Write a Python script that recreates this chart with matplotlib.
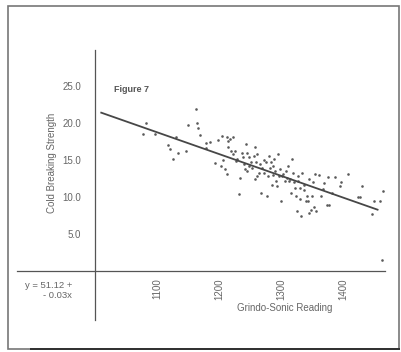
import matplotlib
matplotlib.use("Agg")
import matplotlib.pyplot as plt
from matplotlib.patches import Rectangle

# scatter readings (Grindo-Sonic reading, cold breaking strength)
gs_reading = [1078, 1082, 1097, 1118, 1121, 1125, 1130, 1134, 1146, 1150,
              1163, 1164, 1166, 1170, 1179, 1179, 1185, 1193, 1199, 1205,
              1207, 1210, 1213, 1213, 1214, 1215, 1218, 1220, 1222, 1223,
              1226, 1229, 1232, 1234, 1237, 1239, 1241, 1242, 1243, 1245,
              1248, 1249, 1251, 1253, 1256, 1258, 1260, 1261, 1262, 1264,
              1267, 1268, 1269, 1272, 1273, 1276, 1277, 1279, 1280, 1282,
              1284, 1285, 1287, 1289, 1291, 1292, 1293, 1295, 1297, 1299,
              1300, 1302, 1304, 1306, 1308, 1310, 1311, 1313, 1315, 1317,
              1318, 1320, 1321, 1323, 1325, 1326, 1327, 1328, 1330, 1331,
              1333, 1334, 1337, 1338, 1340, 1342, 1344, 1345, 1346, 1348,
              1350, 1351, 1353, 1355, 1357, 1362, 1365, 1368, 1370, 1374,
              1376, 1377, 1382, 1387, 1395, 1397, 1409, 1424, 1428, 1431,
              1447, 1450, 1460, 1463, 1465, 1203, 1227, 1246, 1258, 1288]
strength = [18.5, 20.0, 18.5, 17.0, 16.5, 15.2, 18.2, 16.0, 16.3, 19.8,
            21.9, 20.0, 19.4, 18.4, 16.7, 17.3, 17.4, 14.6, 17.7, 18.3,
            15.0, 13.8, 13.2, 18.1, 16.8, 17.6, 17.9, 16.3, 15.8, 18.1,
            16.2, 15.2, 10.4, 12.6, 16.0, 15.5, 14.5, 13.8, 17.2, 16.0,
            15.5, 14.2, 14.7, 14.0, 15.6, 16.8, 14.7, 12.9, 15.8, 13.3,
            14.5, 10.6, 14.0, 15.0, 13.3, 14.8, 10.1, 12.9, 15.6, 14.0,
            14.8, 11.7, 14.2, 15.1, 13.5, 12.2, 11.5, 15.8, 12.9, 13.8,
            9.5, 12.8, 13.1, 12.2, 13.5, 12.6, 14.2, 12.2, 12.4, 10.6,
            15.1, 13.3, 12.0, 11.3, 10.1, 8.2, 12.9, 12.2, 11.3, 9.7,
            7.4, 13.3, 11.7, 11.0, 9.5, 10.1, 9.5, 12.5, 7.9, 8.3,
            10.1, 12.0, 8.7, 13.1, 8.1, 13.0, 10.1, 11.1, 11.9, 8.9,
            12.7, 8.9, 10.6, 12.7, 11.5, 12.0, 13.1, 10.0, 10.0, 11.5,
            7.7, 9.5, 9.5, 1.5, 10.9, 14.2, 14.9, 13.6, 12.4, 13.0]

# fitted line y = 51.12 - 0.03x (drawn over reading range)
fit_intercept = 51.12
fit_slope = -0.0294
fit_x = [1010, 1456]
fit_y = [fit_intercept + fit_slope * v for v in fit_x]

y_ticks = [5, 10, 15, 20, 25]
y_labels = ["5.0", "10.0", "15.0", "20.0", "25.0"]
x_ticks = [1100, 1200, 1300, 1400]
x_labels = ["1100", "1200", "1300", "1400"]

plt.rcParams['font.family'] = ['Liberation Sans', 'DejaVu Sans']

fig = plt.figure(figsize=(4.02, 3.52), dpi=100)
fig.patch.set_facecolor('white')

# scanned page frame
fig.patches.append(Rectangle((8 / 402, 3 / 352), 391 / 402, 343 / 352,
                             transform=fig.transFigure, fill=False,
                             edgecolor='#777777', linewidth=1.2))
fig.patches.append(Rectangle((30 / 402, 2 / 352), 370 / 402, 2.5 / 352,
                             transform=fig.transFigure, facecolor='#333333',
                             edgecolor='none'))

ax = fig.add_axes([17 / 402, 32 / 352, 368 / 402, 270 / 352])
ax.set_xlim(874, 1468)
ax.set_ylim(-6.6, 29.9)

for s in ['top', 'right']:
    ax.spines[s].set_visible(False)
ax.spines['left'].set_position(('data', 1000))
ax.spines['bottom'].set_position(('data', 0))
ax.spines['left'].set_color('#555555')
ax.spines['bottom'].set_color('#555555')
ax.spines['left'].set_linewidth(0.9)
ax.spines['bottom'].set_linewidth(0.9)

txt = '#666666'
ax.set_yticks(y_ticks)
ax.set_yticklabels(y_labels, fontsize=7, color=txt)
ax.set_xticks(x_ticks)
ax.set_xticklabels(x_labels, fontsize=7, color=txt, rotation=90)
ax.tick_params(axis='y', length=0, pad=10)
ax.tick_params(axis='x', length=0, pad=5)

ax.scatter(gs_reading, strength, s=3.5, color='#5a5a5a', linewidths=0)
ax.plot(fit_x, fit_y, color='#474747', linewidth=1.3)

ax.text(1030, 24.5, "Figure 7", fontsize=6.5, fontweight='bold', color='#555555',
        va='center')
ax.text((285 - 17) / 368, (352 - 308 - 32) / 270, "Grindo-Sonic Reading",
        transform=ax.transAxes, ha='center', va='center', fontsize=7, color=txt)
ax.text((52 - 17) / 368, (352 - 163 - 32) / 270, "Cold Breaking Strength",
        transform=ax.transAxes, ha='center', va='center', rotation=90,
        fontsize=7, color=txt)
ax.text((72 - 17) / 368, (352 - 286 - 32) / 270, "y = 51.12 +",
        transform=ax.transAxes, ha='right', va='center', fontsize=6.8, color=txt)
ax.text((72 - 17) / 368, (352 - 295 - 32) / 270, "- 0.03x",
        transform=ax.transAxes, ha='right', va='center', fontsize=6.8, color=txt)

fig.savefig("out.png", dpi=100, facecolor='white')
